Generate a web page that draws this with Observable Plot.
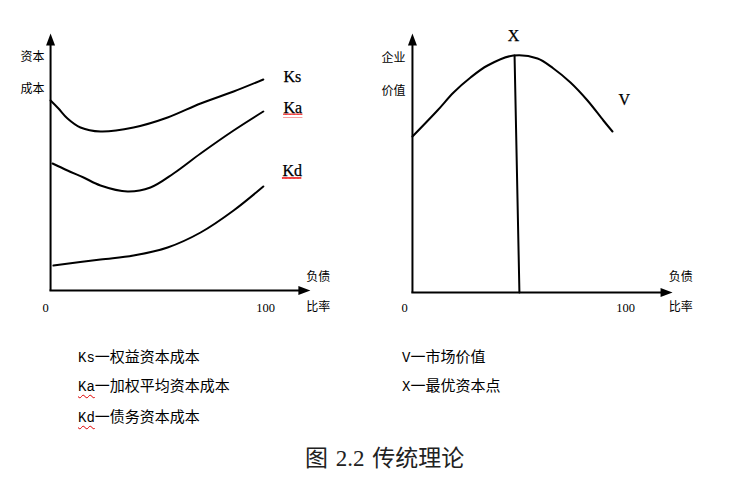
<!DOCTYPE html>
<html><head><meta charset="utf-8">
<script src="https://cdn.jsdelivr.net/npm/d3@7"></script>
<script src="https://cdn.jsdelivr.net/npm/@observablehq/plot@0.6"></script>
<style>
body{margin:0;background:#fff;}
#wrap{position:relative;width:735px;height:484px;overflow:hidden;background:#fff;}
.panel{position:absolute;top:0;}
.leg{position:absolute;font-family:"DejaVu Sans Mono","Liberation Mono","Noto Sans CJK SC";font-size:15px;line-height:15px;color:#000;white-space:nowrap;}
.leg .m{font-family:"Liberation Mono","DejaVu Sans Mono",monospace;font-size:14px;}
.w{text-decoration:underline wavy #d00;text-decoration-thickness:1px;text-underline-offset:3px;}
#title{position:absolute;left:305px;top:446px;font-family:"Liberation Serif","Noto Sans CJK SC";font-size:23px;line-height:26px;color:#222;white-space:nowrap;word-spacing:2px;}
</style></head><body>
<div id="wrap">
  <div id="left" class="panel" style="left:0"></div>
  <div id="right" class="panel" style="left:367px"></div>
  <div class="leg" style="left:78px;top:350px"><span class="m">Ks</span>一权益资本成本</div>
  <div class="leg" style="left:78px;top:379px"><span class="m w">Ka</span>一加权平均资本成本</div>
  <div class="leg" style="left:78px;top:410px"><span class="m w">Kd</span>一债务资本成本</div>
  <div class="leg" style="left:402px;top:350px"><span class="m">V</span>一市场价值</div>
  <div class="leg" style="left:402px;top:379px"><span class="m">X</span>一最优资本点</div>
  <div id="title">图 2.2 传统理论</div>
</div>
<script>
// ---- data (left panel: cost of capital vs debt ratio) ----
const ksX = [2.3, 5.9, 10, 15.9, 25, 40, 55.5, 70.5, 85.5, 99];
const ksY = [76, 72.8, 68.8, 65.2, 63.6, 65.2, 69.2, 74.8, 79.6, 84.4];
const kaX = [3.2, 10, 17.3, 25, 37.3, 47.7, 58.2, 70.5, 85.5, 99];
const kaY = [50.8, 48, 45.2, 42, 39.6, 41.2, 46.8, 54.8, 64, 71.6];
const kdX = [3.6, 25, 40, 55.5, 70.5, 85.5, 99];
const kdY = [10, 12.4, 14, 17.2, 23.2, 32, 41.6];
const seriesNames = ["Ks", "Ka", "Kd"];
const seriesLabelX = [108.2, 108.2, 107.7];
const seriesLabelY = [85.6, 73.2, 48];
const spellFlag = [false, true, true];
// ---- data (right panel: firm value) ----
const vX = [3.6, 14.9, 22.2, 29.9, 37.6, 49.3, 60.2, 67.4, 75.1, 82.8, 90, 94.1];
const vY = [62.4, 72.8, 80, 86, 90.8, 94.8, 93.6, 89.6, 84, 76.8, 68.8, 64.4];
const optX = [49.8, 52];
const optY = [94.8, 0];
const vLabel = {name: "V", x: 99.5, y: 77.2};
const optLabel = {name: "X", x: 49.3, y: 102.8};
// ---- tick labels and axis titles ----
const tickValues = [0, 100];
const tickLabels = ["0", "100"];
const leftYTitle = ["资本", "成本"];
const rightYTitle = ["企业", "价值"];
const xTitle = ["负债", "比率"];

const arrowHead = {
  draw(ctx) { ctx.moveTo(0, 0); ctx.lineTo(-4.5, 12); ctx.lineTo(4.5, 12); ctx.closePath(); }
};
const zh = "Noto Sans CJK SC";
const serif = "Liberation Serif";

function panel({xr, yr, axisX, yTip, xTip, tickY, yTitles, yTitleX, yTitleYs, xTitleX, xTitleYs, marks}) {
  return Plot.plot({
    width: 367, height: 330, margin: 0,
    x: {domain: [0, 100], range: xr, axis: null},
    y: {domain: [0, 100], range: yr, axis: null},
    style: {background: "transparent", overflow: "visible"},
    marks: [
      Plot.link([0], {x1: axisX, y1: 0, x2: axisX, y2: yTip - 4, stroke: "#000", strokeWidth: 2}),
      Plot.link([0], {x1: axisX - 0.5, y1: 0, x2: xTip - 4, y2: 0, stroke: "#000", strokeWidth: 2}),
      Plot.dot([0], {x: axisX, y: yTip, symbol: arrowHead, fill: "#000", stroke: null}),
      Plot.dot([0], {x: xTip, y: 0, symbol: arrowHead, fill: "#000", stroke: null, rotate: 90}),
      ...marks,
      Plot.text(tickValues, {x: d => d, y: tickY, text: (d, i) => tickLabels[i], fontFamily: serif, fontSize: 12.5, fill: "#000"}),
      Plot.text(yTitleYs, {x: yTitleX, y: d => d, text: (d, i) => yTitles[i], fontFamily: zh, fontSize: 12, fill: "#000"}),
      Plot.text(xTitleYs, {x: xTitleX, y: d => d, text: (d, i) => xTitle[i], fontFamily: zh, fontSize: 12, fill: "#000"})
    ]
  });
}

const flagged = seriesNames.map((n, i) => i).filter(i => spellFlag[i]);

const left = panel({
  xr: [45, 265], yr: [290, 40], axisX: 2.3, yTip: 102.8, xTip: 120.4, tickY: -6.8,
  yTitles: leftYTitle, yTitleX: -5.9, yTitleYs: [93.2, 80.4], xTitleX: 124, xTitleYs: [5.2, -6.8],
  marks: [
    Plot.line(ksX, {x: d => d, y: (d, i) => ksY[i], curve: "catmull-rom", stroke: "#000", strokeWidth: 2}),
    Plot.line(kaX, {x: d => d, y: (d, i) => kaY[i], curve: "catmull-rom", stroke: "#000", strokeWidth: 2}),
    Plot.line(kdX, {x: d => d, y: (d, i) => kdY[i], curve: "catmull-rom", stroke: "#000", strokeWidth: 2}),
    // red wavy spell-check underline beneath flagged labels
    Plot.rect(flagged, {x1: i => seriesLabelX[i], x2: i => seriesLabelX[i] + 8.8, y1: i => seriesLabelY[i] - 4.2, y2: i => seriesLabelY[i] - 2.6, fill: "url(#wave)"}),
    Plot.text(seriesNames, {x: (d, i) => seriesLabelX[i], y: (d, i) => seriesLabelY[i], text: d => d, textAnchor: "start", fontFamily: serif, fontSize: 16, fill: "#000", stroke: "#000", strokeWidth: 0.25})
  ]
});

// pattern definition for wavy underline
const defs = d3.select(left).insert("defs", ":first-child");
const pat = defs.append("pattern").attr("id", "wave").attr("patternUnits", "userSpaceOnUse")
  .attr("width", 4).attr("height", 4).attr("x", 0).attr("y", 0);
pat.append("path").attr("d", "M0,3 L1,1 L2,3 L3,1 L4,3").attr("fill", "none").attr("stroke", "#e00").attr("stroke-width", 0.9);

const right = panel({
  xr: [37, 258], yr: [292, 42], axisX: 3.6, yTip: 103.6, xTip: 121.3, tickY: -6,
  yTitles: rightYTitle, yTitleX: -5, yTitleYs: [93.6, 80.4], xTitleX: 125, xTitleYs: [6, -6],
  marks: [
    Plot.line(vX, {x: d => d, y: (d, i) => vY[i], curve: "catmull-rom", stroke: "#000", strokeWidth: 2}),
    Plot.line(optX, {x: d => d, y: (d, i) => optY[i], stroke: "#000", strokeWidth: 2}),
    Plot.text([vLabel, optLabel], {x: "x", y: "y", text: "name", fontFamily: serif, fontSize: 16, fill: "#000", stroke: "#000", strokeWidth: 0.25})
  ]
});

document.getElementById("left").appendChild(left);
document.getElementById("right").appendChild(right);
</script>
</body></html>
